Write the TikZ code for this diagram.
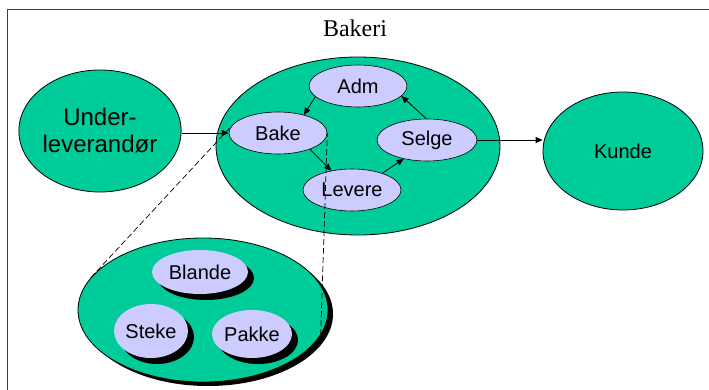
\documentclass[tikz,border=0pt]{standalone}
\usepackage{fontspec}
\setmainfont{Liberation Sans}
\newfontfamily\titleface{Liberation Serif}
\usetikzlibrary{shapes.geometric,arrows.meta,shadows}
\definecolor{procgreen}{HTML}{00CC99}
\definecolor{proclilac}{HTML}{CCCCFF}
\definecolor{framegray}{HTML}{404040}
\begin{document}
\begin{tikzpicture}[x=1pt,y=-1pt,
  actor/.style={ellipse, inner sep=0pt, draw=black, line width=0.8pt, fill=procgreen},
  task/.style={ellipse, inner sep=0pt, draw=black, line width=0.6pt, fill=proclilac,
    font=\fontsize{20}{24}\selectfont},
  subtask/.style={ellipse, inner sep=0pt, fill=proclilac,
    drop shadow={shadow xshift=6pt, shadow yshift=-6pt, opacity=1, fill=black},
    font=\fontsize{20}{24}\selectfont},
  flow/.style={-{Triangle[length=7pt,width=6pt]}, line width=0.8pt},
  zoomline/.style={dash pattern=on 6pt off 3pt, line width=0.7pt}]
\useasboundingbox (0,0) rectangle (709,390);

% frame
\draw[framegray, line width=1.5pt] (7.5,390) -- (7.5,9.5) -- (709,9.5);

% outer actors
\node[actor, minimum width=160pt, minimum height=122pt, align=center,
      font=\fontsize{24}{27}\selectfont] (under) at (100,131) {Under-\\leverandør};
\node[actor, minimum width=284pt, minimum height=178pt] (bakeri) at (358,146) {};
\node[font=\titleface\fontsize{24}{28}\selectfont] (bakerilabel) at (355,28) {Bakeri};
\node[actor, minimum width=160pt, minimum height=118pt,
      font=\fontsize{20}{24}\selectfont] (kunde) at (623,151) {Kunde};

% processes inside the bakery
\node[task, minimum width=98pt, minimum height=42pt] (adm) at (358,86) {Adm};
\node[task, minimum width=98pt, minimum height=42pt] (bake) at (278,133) {Bake};
\node[task, minimum width=100pt, minimum height=42pt] (selge) at (427,140) {Selge};
\node[task, minimum width=98pt, minimum height=42pt] (levere) at (352,190) {Levere};

% refinement of Bake
\node[actor, minimum width=250pt, minimum height=144pt,
      drop shadow={shadow xshift=5pt, shadow yshift=-4pt, opacity=1, fill=black}] (detail) at (203,310) {};
\node[subtask, minimum width=96pt, minimum height=44pt] (blande) at (200,272) {Blande};
\node[subtask, minimum width=74pt, minimum height=54pt] (steke) at (151,331) {Steke};
\node[subtask, minimum width=80pt, minimum height=48pt] (pakke) at (252,334) {Pakke};

% flows
\draw[flow] (under.east |- bake.west) -- (bake.west);
\draw[flow] (selge.east) -- (selge.east -| kunde.west);
\draw[flow] (adm.194) -- (bake.35);
\draw[flow] (bake.-27) -- (levere.137);
\draw[flow] (levere.29) -- (selge.219);
\draw[flow] (selge.92) -- (adm.-13);

% zoom lines, drawn from the detail view up to Bake
\draw[zoomline] (detail.164.5) -- (bake.172);
\draw[zoomline] (detail.-12) -- (bake.east);
\end{tikzpicture}
\end{document}
